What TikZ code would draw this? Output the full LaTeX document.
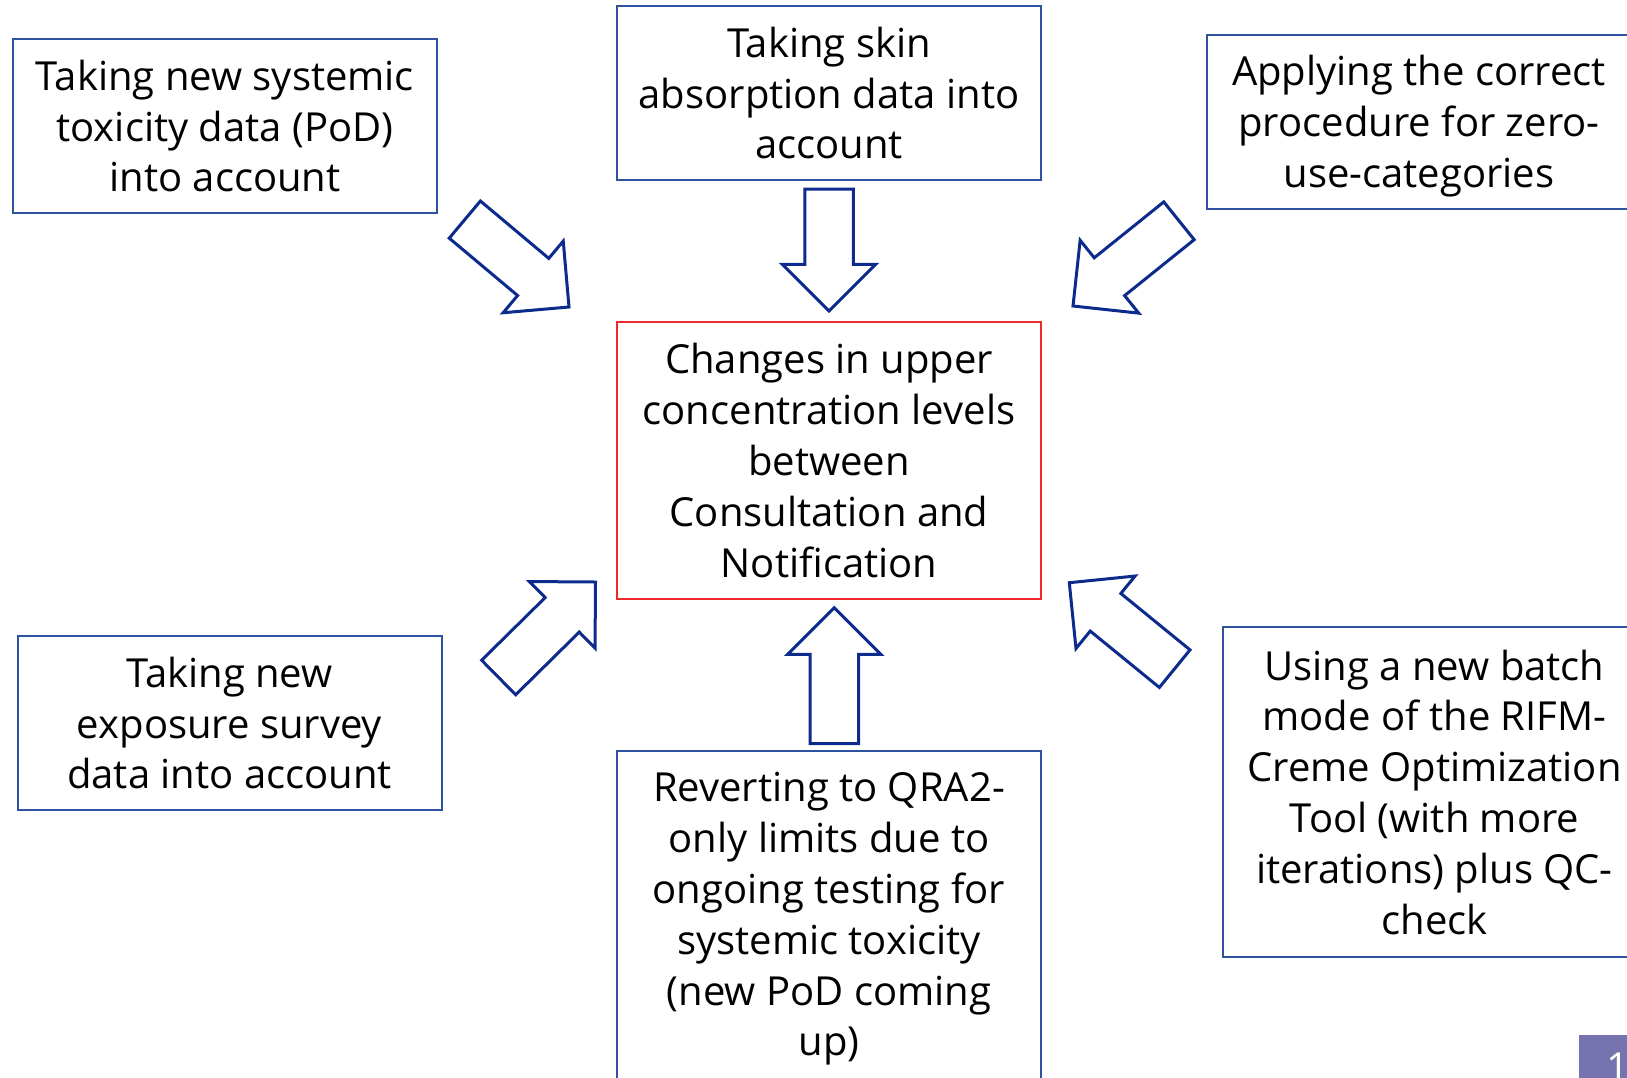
\documentclass[tikz,border=0pt]{standalone}
\usepackage{fontspec}
\setmainfont{Open Sans}
\usetikzlibrary{shapes.arrows}
\definecolor{boxblue}{HTML}{2F52A0}
\definecolor{arrblue}{HTML}{0C2B8C}
\definecolor{boxred}{HTML}{EE2A2A}
\definecolor{numbg}{HTML}{7674B0}
\begin{document}
\begin{tikzpicture}[x=1pt,y=-1pt,
		infobox/.style={draw=boxblue,line width=2pt,minimum width=424pt,minimum height=174pt,
			inner sep=0pt,align=center,font=\fontsize{40}{50.8}\selectfont},
		blockarr/.style={single arrow,draw=arrblue,line width=3pt,inner xsep=0pt,inner ysep=22.75pt,outer sep=0pt,
			single arrow head extend=22.5pt,anchor=tip,minimum height=136pt}]
	\clip (0,0) rectangle (1627,1077);
	\node[infobox] (systox) at (225,126) {Taking new systemic\\toxicity data (PoD)\\into account};
	\node[infobox] (skin) at (829,93) {Taking skin\\absorption data into\\account};
	\node[infobox] (zerouse) at (1419,121.5) {\rule{0pt}{40pt}Applying the correct\\procedure for zero-\\use-categories};
	\node[infobox,draw=boxred,minimum height=277pt] (changes) at (829,460.5) {Changes in upper\\concentration levels\\between\\Consultation and\\Notification};
	\node[infobox] (exposure) at (229.5,723) {Taking new\\exposure survey\\data into account};
	\node[infobox,minimum height=336pt] (revert) at (829,919) {Reverting to QRA2-\\only limits due to\\ongoing testing for\\systemic toxicity\\(new PoD coming\\up)};
	\node[infobox,minimum height=330pt] (batch) at (1434.5,792) {Using a new batch\\mode of the RIFM-\\Creme Optimization\\Tool (with more\\iterations) plus QC-\\check};
	\node[blockarr,rotate=-40] (arrsystox) at (569,307) {};
	\node[blockarr,minimum height=122pt,rotate=-90] (arrskin) at (829,311) {};
	\node[blockarr,rotate=-141.2] (arrzerouse) at (1073,306) {};
	\node[blockarr,rotate=44.6] (arrexposure) at (595.5,582) {};
	\node[blockarr,rotate=90] (arrrevert) at (834.3,607.7) {};
	\node[blockarr,rotate=140.8] (arrbatch) at (1069.3,582.7) {};
	\fill[numbg] (1579,1035) rectangle (1640,1090);
	\node[anchor=north west,inner sep=0pt,text=white,font=\fontsize{40}{48}\selectfont] (pagenum) at (1606,1053) {1};
\end{tikzpicture}
\end{document}
